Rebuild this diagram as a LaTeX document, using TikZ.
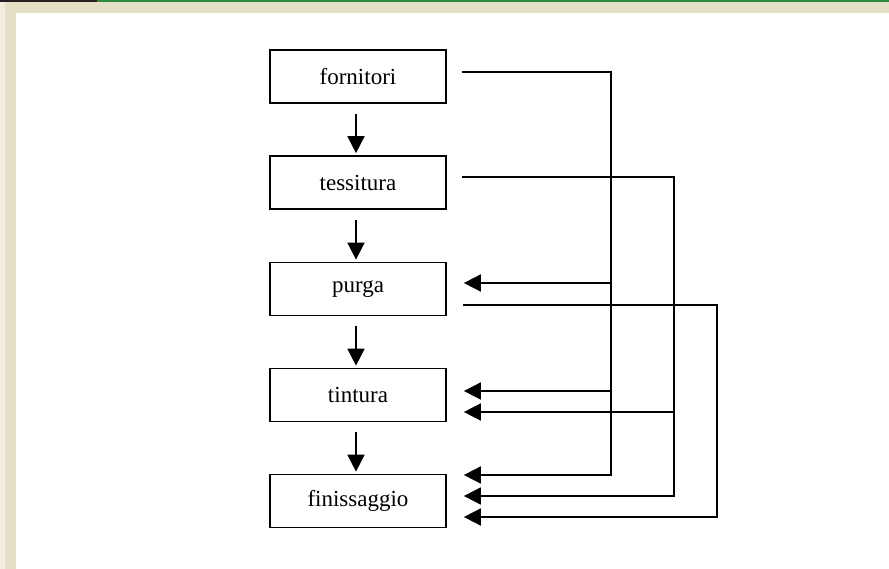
\documentclass[tikz,border=0pt]{standalone}
\usepackage{fontspec}
\setmainfont{Liberation Serif}
\usetikzlibrary{arrows.meta,calc}
\definecolor{framebeige}{HTML}{E5DFC6}
\definecolor{paleedge}{HTML}{F1EDDF}
\definecolor{topdark}{HTML}{231F20}
\definecolor{topgreen}{HTML}{2F8A3C}
\begin{document}
\begin{tikzpicture}[x=1pt,y=-1pt,
  stage/.style={draw=black, line width=1.7pt, fill=white, minimum width=176pt,
    minimum height=53pt, inner sep=0pt, font=\fontsize{23}{27}\selectfont},
  flow/.style={line width=1.7pt, draw=black},
  tip/.style={-{Triangle[length=17pt,width=17pt]}}]
  % page frame
  \useasboundingbox (0,0) rectangle (889,569);
  \fill[white] (0,0) rectangle (889,569);
  \fill[paleedge] (0,2) rectangle (5,569);
  \fill[framebeige] (5,2) rectangle (889,13);
  \fill[framebeige] (5,2) rectangle (16,569);
  \fill[topdark] (0,0) rectangle (97,2);
  \fill[topgreen] (97,0) rectangle (889,2);

  % process stages
  \node[stage] (forn)  at (358,76.5) {\raisebox{-2pt}{fornitori}};
  \node[stage] (tess)  at (358,182.5) {\raisebox{-2pt}{tessitura}};
  \node[stage] (purga) at (358,289) {\raisebox{-2pt}{purga}};
  \node[stage] (tint)  at (358,395) {\raisebox{-2pt}{tintura}};
  \node[stage] (fin)   at (358,501) {\raisebox{-2pt}{finissaggio}};

  % main sequence
  \draw[flow,tip] ([xshift=-2pt,yshift=-10pt]forn.south)  -- ([xshift=-2pt,yshift=2pt]tess.north);
  \draw[flow,tip] ([xshift=-2pt,yshift=-10pt]tess.south)  -- ([xshift=-2pt,yshift=2pt]purga.north);
  \draw[flow,tip] ([xshift=-2pt,yshift=-10pt]purga.south) -- ([xshift=-2pt,yshift=2pt]tint.north);
  \draw[flow,tip] ([xshift=-2pt,yshift=-10pt]tint.south)  -- ([xshift=-2pt,yshift=2pt]fin.north);

  % bus turning points
  \coordinate (busA) at (611,475);
  \coordinate (busB) at (674,496);
  \coordinate (busC) at (717,517);

  % fornitori feeds purga, tintura, finissaggio
  \draw[flow,tip] ($(forn.east)+(15,-4.5)$) -| (busA) -- ($(fin.east)+(17,-26)$);
  \draw[flow,tip] (busA |- 0,283) -- ($(purga.east)+(17,-6)$);
  \draw[flow,tip] (busA |- 0,391) -- ($(tint.east)+(17,-4)$);

  % tessitura feeds tintura, finissaggio
  \draw[flow,tip] ($(tess.east)+(15,-5.5)$) -| (busB) -- ($(fin.east)+(17,-5)$);
  \draw[flow,tip] (busB |- 0,412) -- ($(tint.east)+(17,17)$);

  % purga feeds finissaggio
  \draw[flow,tip] ($(purga.east)+(16,16)$) -| (busC) -- ($(fin.east)+(17,16)$);
\end{tikzpicture}
\end{document}
